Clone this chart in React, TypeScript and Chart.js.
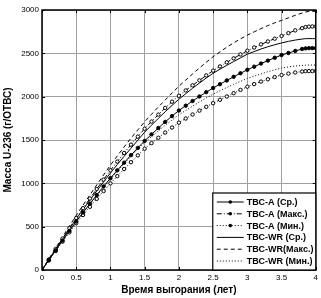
import React, { useEffect, useRef } from "react";
import { Chart, registerables } from "chart.js";

Chart.register(...registerables);

const FONT = "'Liberation Sans', Arial, Helvetica, sans-serif";

// burnup time, years
const timeYears = [
  0, 0.1, 0.2, 0.3, 0.4, 0.5, 0.6, 0.7, 0.8, 0.9,
  1.0, 1.1, 1.2, 1.3, 1.4, 1.5, 1.6, 1.7, 1.8, 1.9,
  2.0, 2.1, 2.2, 2.3, 2.4, 2.5, 2.6, 2.7, 2.8, 2.9,
  3.0, 3.1, 3.2, 3.3, 3.4, 3.5, 3.6, 3.7, 3.8, 3.85, 3.9, 3.95, 4.0,
];

const tvsAAvg = [
  0, 114, 227, 340, 451, 560, 663, 765, 866, 964,
  1060, 1150, 1238, 1325, 1409, 1490, 1565, 1638, 1709, 1776,
  1840, 1896, 1950, 2002, 2052, 2100, 2144, 2187, 2229, 2270,
  2310, 2346, 2382, 2416, 2449, 2480, 2504, 2528, 2550, 2557, 2560, 2560, 2560,
];
const tvsAMax = [
  0, 122, 243, 363, 482, 600, 713, 825, 935, 1043,
  1150, 1251, 1350, 1446, 1539, 1630, 1713, 1793, 1870, 1942,
  2010, 2072, 2131, 2188, 2245, 2300, 2349, 2396, 2442, 2487,
  2530, 2567, 2603, 2637, 2669, 2700, 2733, 2765, 2790, 2803, 2808, 2810, 2810,
];
const tvsAMin = [
  0, 110, 219, 327, 434, 540, 635, 729, 821, 911,
  1000, 1083, 1165, 1244, 1323, 1400, 1464, 1526, 1586, 1644,
  1700, 1748, 1794, 1839, 1883, 1925, 1964, 2002, 2040, 2078,
  2115, 2145, 2174, 2201, 2226, 2250, 2266, 2279, 2290, 2294, 2295, 2295, 2295,
];
const tvsWRAvg = [
  0, 120, 239, 357, 474, 590, 698, 806, 912, 1017,
  1120, 1217, 1312, 1405, 1498, 1590, 1671, 1750, 1826, 1899,
  1970, 2034, 2097, 2157, 2215, 2270, 2317, 2362, 2405, 2448,
  2490, 2521, 2550, 2576, 2599, 2620, 2638, 2653, 2665, 2669, 2670, 2670, 2670,
];
const tvsWRMax = [
  0, 128, 255, 381, 506, 630, 748, 866, 982, 1097,
  1210, 1316, 1420, 1521, 1617, 1710, 1797, 1881, 1962, 2042,
  2120, 2192, 2262, 2331, 2397, 2460, 2517, 2571, 2621, 2667,
  2710, 2748, 2785, 2820, 2852, 2880, 2910, 2938, 2965, 2978, 2983, 2985, 2985,
];
const tvsWRMin = [
  0, 114, 227, 339, 450, 560, 661, 760, 858, 955,
  1050, 1139, 1226, 1311, 1392, 1470, 1539, 1606, 1670, 1731,
  1790, 1841, 1891, 1939, 1985, 2030, 2068, 2106, 2142, 2177,
  2210, 2237, 2263, 2288, 2310, 2330, 2343, 2354, 2360, 2363, 2365, 2365, 2365,
];

const seriesLabels = [
  "ТВС-А (Ср.)",
  "ТВС-А (Макс.)",
  "ТВС-А (Мин.)",
  "ТВС-WR (Ср.)",
  "ТВС-WR(Макс.)",
  "ТВС-WR (Мин.)",
];
const xTitle = "Время выгорания (лет)";
const yTitle = "Масса U-236 (г/ОТВС)";

const DASH_SOLID: number[] = [];
const DASH_DASHDOT = [5, 2, 1, 2];
const DASH_DOTTED = [1, 2];
const DASH_DASHED = [4, 3];

type Style = { dash: number[]; marker: "filled" | "hollow" | "none" };
const styles: Style[] = [
  { dash: DASH_SOLID, marker: "filled" },
  { dash: DASH_DASHDOT, marker: "hollow" },
  { dash: DASH_DOTTED, marker: "hollow" },
  { dash: DASH_SOLID, marker: "none" },
  { dash: DASH_DASHED, marker: "none" },
  { dash: DASH_DOTTED, marker: "none" },
];
const seriesValues = [tvsAAvg, tvsAMax, tvsAMin, tvsWRAvg, tvsWRMax, tvsWRMin];

const boxPlugin = {
  id: "boxAndLegend",
  afterDraw(chart: any) {
    const { ctx, chartArea } = chart;
    const { left, right, top, bottom } = chartArea;
    ctx.save();
    const xs = chart.scales.x;
    const ys = chart.scales.y;
    ctx.strokeStyle = "#000";
    ctx.lineWidth = 1;
    ctx.setLineDash([]);
    xs.ticks.forEach((t: any) => {
      const px = Math.round(xs.getPixelForValue(t.value)) + 0.5;
      ctx.beginPath();
      ctx.moveTo(px, bottom);
      ctx.lineTo(px, bottom - 3);
      ctx.moveTo(px, top);
      ctx.lineTo(px, top + 3);
      ctx.stroke();
    });
    ys.ticks.forEach((t: any) => {
      const py = Math.round(ys.getPixelForValue(t.value)) + 0.5;
      ctx.beginPath();
      ctx.moveTo(left, py);
      ctx.lineTo(left + 3, py);
      ctx.moveTo(right, py);
      ctx.lineTo(right - 3, py);
      ctx.stroke();
    });
    ctx.lineWidth = 1.5;
    ctx.strokeRect(left, top, right - left, bottom - top);

    // legend
    const lw = 103;
    const lh = 77;
    const lx = right - lw;
    const ly = bottom - lh;
    ctx.fillStyle = "#fff";
    ctx.fillRect(lx, ly, lw, lh);
    ctx.lineWidth = 1.2;
    ctx.strokeStyle = "#000";
    ctx.strokeRect(lx, ly, lw, lh);
    ctx.font = `bold 9px ${FONT}`;
    ctx.textBaseline = "middle";
    ctx.textAlign = "left";
    seriesLabels.forEach((label, i) => {
      const y = ly + 9 + i * 11.8;
      const x0 = lx + 4;
      const x1 = lx + 31;
      const st = styles[i];
      ctx.setLineDash(st.dash);
      ctx.lineWidth = 1;
      ctx.strokeStyle = "#000";
      ctx.beginPath();
      ctx.moveTo(x0, y);
      ctx.lineTo(x1, y);
      ctx.stroke();
      ctx.setLineDash([]);
      if (st.marker !== "none") {
        ctx.beginPath();
        ctx.arc((x0 + x1) / 2, y, 1.8, 0, Math.PI * 2);
        ctx.fillStyle = "#000";
        ctx.fill();
      }
      ctx.fillStyle = "#000";
      ctx.fillText(label, lx + 34, y + 0.5);
    });
    ctx.restore();
  },
};

export default function App() {
  const ref = useRef<HTMLCanvasElement | null>(null);
  useEffect(() => {
    if (!ref.current) return;
    const datasets = seriesValues.map((vals, i) => {
      const st = styles[i];
      return {
        label: seriesLabels[i],
        data: timeYears.map((t, j) => ({ x: t, y: vals[j] })),
        borderColor: "#000",
        borderWidth: 1,
        borderDash: st.dash,
        pointRadius: st.marker === "none" ? 0 : 1.7,
        pointBorderWidth: 1,
        pointBorderColor: "#000",
        pointBackgroundColor: st.marker === "filled" ? "#000" : "#fff",
        fill: false,
        tension: 0,
      };
    });
    const chart = new Chart(ref.current, {
      type: "line",
      data: { datasets },
      options: {
        responsive: false,
        animation: false,
        layout: { padding: { top: 10, right: 1, left: 0, bottom: 0 } },
        plugins: { legend: { display: false }, tooltip: { enabled: false } },
        scales: {
          x: {
            type: "linear",
            min: 0,
            max: 4,
            ticks: {
              stepSize: 0.5,
              color: "#000",
              font: { size: 8, family: FONT },
              padding: 3,
              maxRotation: 0,
              callback: (v: any) => String(Number(v)),
            },
            grid: { color: "#a0a0a0", lineWidth: 1, drawTicks: false },
            border: { display: false },
            title: {
              display: true,
              text: xTitle,
              color: "#000",
              font: { size: 10, weight: "bold", family: FONT },
              padding: { top: 0, bottom: 2 },
            },
            afterFit: (s: any) => {
              s.height = 28;
            },
          },
          y: {
            type: "linear",
            min: 0,
            max: 3000,
            ticks: {
              stepSize: 500,
              color: "#000",
              font: { size: 8, family: FONT },
              padding: 3,
              callback: (v: any) => String(Number(v)),
            },
            grid: { color: "#a0a0a0", lineWidth: 1, drawTicks: false },
            border: { display: false },
            title: {
              display: true,
              text: yTitle,
              color: "#000",
              font: { size: 10, weight: "bold", family: FONT },
              padding: { top: 2, bottom: 0 },
            },
            afterFit: (s: any) => {
              s.width = 42;
            },
          },
        },
      },
      plugins: [boxPlugin],
    } as any);
    return () => chart.destroy();
  }, []);
  return (
    <div style={{ position: "absolute", left: 0, top: 0, width: 321, height: 298, background: "#fff" }}>
      <canvas ref={ref} width={321} height={298} />
    </div>
  );
}
